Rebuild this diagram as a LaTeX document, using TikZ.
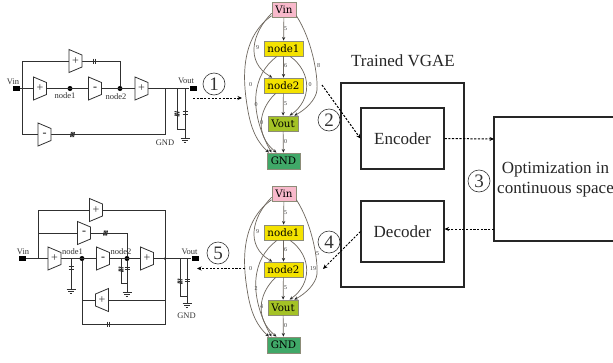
\documentclass[tikz,border=0pt]{standalone}
\usepackage{fontspec}
\setmainfont{Liberation Serif}
\newfontfamily\gvfont{DejaVu Serif}
\usetikzlibrary{arrows.meta}
\definecolor{wirec}{HTML}{303030}
\definecolor{edgec}{HTML}{6E675E}
\definecolor{gvborder}{HTML}{8C8C78}
\tikzset{
  wire/.style={draw=wirec,line width=0.9pt},
  ampbody/.style={draw=wirec,line width=0.8pt,fill=white},
  ampsign/.style={inner sep=0pt,font=\fontsize{12}{12}\selectfont,text=wirec},
  clabel/.style={inner sep=0pt,font=\fontsize{8.5}{9}\selectfont,text=black!80},
  dotn/.style={circle,fill=black,inner sep=0pt,minimum size=5pt},
  term/.style={fill=black,inner sep=0pt,minimum width=7pt,minimum height=5pt},
  gv/.style={draw=gvborder,line width=0.8pt,inner sep=0pt,minimum height=15pt,font=\gvfont\fontsize{10.3}{10}\selectfont},
  gvE/.style={draw=edgec,line width=0.7pt,-{Stealth[length=3.6pt,width=3.2pt,color=black!85]}},
  gvL/.style={inner sep=0pt,font=\fontsize{6}{6}\selectfont,text=black!75},
  blk/.style={draw=black!85,line width=1.1pt},
  txt/.style={inner sep=0pt,font=\fontsize{17}{20}\selectfont,text=black!85,align=center},
  num/.style={circle,draw=black!80,line width=0.6pt,fill=white,minimum size=22pt,inner sep=0pt,font=\fontsize{19}{19}\selectfont,text=black!80},
  dasharrow/.style={draw=black,line width=1pt,dash pattern=on 2.2pt off 1.5pt,-{Stealth[length=4.5pt,width=4pt]}},
}
% right-narrowing amplifier: name, cx, y, sign
\newcommand{\ampR}[4]{\begin{scope}[shift={(#2,#3)}]
  \path[ampbody] (-6.5,-11.5)--(6.5,-6)--(6.5,6)--(-6.5,11.5)--cycle;
  \node[ampsign] (#1) at (0,0) {#4};\end{scope}}
% left-narrowing amplifier
\newcommand{\ampL}[4]{\begin{scope}[shift={(#2,#3)}]
  \path[ampbody] (6.5,-11.5)--(-6.5,-6)--(-6.5,6)--(6.5,11.5)--cycle;
  \node[ampsign] (#1) at (0,0) {#4};\end{scope}}
\newcommand{\capH}[2]{\draw[wirec,line width=1.2pt] (#1-1.2,#2-2.5)--(#1-1.2,#2+2.5) (#1+1.2,#2-2.5)--(#1+1.2,#2+2.5);}
\newcommand{\capV}[2]{\draw[wirec,line width=1.2pt] (#1-2.5,#2-1.2)--(#1+2.5,#2-1.2) (#1-2.5,#2+1.2)--(#1+2.5,#2+1.2);}
\newcommand{\resV}[2]{\draw[wirec,line width=1pt] (#1-2.5,#2-2)--(#1+2.5,#2-1) (#1-2.5,#2)--(#1+2.5,#2+1) (#1-2.5,#2+1.5)--(#1+2.5,#2+2.5);}
\newcommand{\resH}[2]{\draw[wirec,line width=1pt] (#1-1.5,#2+2.5)--(#1-.5,#2-2.5) (#1,#2+2.5)--(#1+1,#2-2.5) (#1+1.5,#2+2.5)--(#1+2.5,#2-2.5);}
\newcommand{\gndsym}[2]{\draw[wirec,line width=0.8pt] (#1-4.5,#2)--(#1+4.5,#2) (#1-3,#2+2.2)--(#1+3,#2+2.2) (#1-1.4,#2+4.4)--(#1+1.4,#2+4.4);}
% graph: prefix, y offset, labels
\newcommand{\vgraph}[7]{\begin{scope}[yshift=#2 * -1pt]
  \node[gv,fill=gvVin,minimum width=24pt] (#1vin) at (284,10) {Vin};
  \node[gv,fill=gvNode,minimum width=39pt] (#1na) at (283.5,48.5) {node1};
  \node[gv,fill=gvNode,minimum width=39pt] (#1nb) at (283.5,85.5) {node2};
  \node[gv,fill=gvVout,minimum width=30pt] (#1vo) at (283,123.5) {Vout};
  \node[gv,fill=gvGnd,minimum width=33pt,minimum height=16pt] (#1gn) at (283.5,161) {GND};
  \draw[gvE] (#1vin) -- (#1na);
  \draw[gvE] (#1na) -- (#1nb);
  \draw[gvE] (#1nb) -- (#1vo);
  \draw[gvE] (#1vo) -- (#1gn);
  \draw[gvE] (#1vin.195) .. controls (252,33) and (245,62) .. (#1nb.145);
  \draw[gvE] (#1vin.205) .. controls (240,38) and (243,80) .. (247,105) .. controls (250,125) and (255,140) .. (#1gn.150);
  \draw[gvE] (#1na.230) .. controls (252,75) and (248,110) .. (#1gn.145);
  \draw[gvE] (#1nb.225) .. controls (258,110) and (255,135) .. (#1gn.130);
  \draw[gvE] (#1vin.-25) .. controls (312,40) and (318,75) .. (317,90) .. controls (316,100) and (305,110) .. (#1vo.35);
  \draw[gvE] (#1na.-50) .. controls (312,72) and (312,100) .. (#1vo.50);
  \node[gvL] (#1la) at (285.5,28.5) {#3};
  \node[gvL] (#1lb) at (257.5,47.5) {#4};
  \node[gvL] (#1lc) at (250.5,85) {0};
  \node[gvL] (#1ld) at (256,104.5) {#5};
  \node[gvL] (#1le) at (285.5,66) {6};
  \node[gvL] (#1lf) at (285.5,104) {5};
  \node[gvL] (#1lg) at (261.5,122.5) {#6};
  \node[gvL] (#1lh) at (285.5,141.5) {0};
  #7
  \end{scope}}
\definecolor{gvVin}{HTML}{F8B9CB}
\definecolor{gvNode}{HTML}{F4E200}
\definecolor{gvVout}{HTML}{A4C226}
\definecolor{gvGnd}{HTML}{40A868}
\begin{document}
\begin{tikzpicture}[x=1pt,y=-1pt]
\useasboundingbox (0,0) rectangle (613,362);
\fill[white] (0,0) rectangle (613,362);

%% ---- upper circuit
\node[term] (avin) at (16.5,88.5) {};
\coordinate (ajl) at (22,88.5);
\coordinate (ajt) at (22,61);
\coordinate (ajb) at (22,134.5);
\coordinate (atr) at (120,61);
\coordinate (agt) at (165,88.5);
\coordinate (agb) at (165,134.5);
\coordinate (arl) at (177,88.5);
\coordinate (arlb) at (177,129);
\coordinate (arr) at (185,88.5);
\coordinate (arrb) at (185,138);
\coordinate (arrm) at (185,129);
\node[term] (avout) at (193,88.5) {};
\node[dotn] (an1) at (70,88.5) {};
\node[dotn] (an2) at (120,88.5) {};
\draw[wire] (avin) -- (avout);
\draw[wire] (ajb) -- (ajt) -- (atr) -- (an2);
\draw[wire] (ajb) -- (agb) -- (agt);
\draw[wire] (arl) -- (arlb) -- (arrm);
\draw[wire] (arr) -- (arrb);
\ampR{aa1}{75.5}{61}{+}
\ampR{aa2}{40}{88.5}{+}
\ampR{aa3}{95}{88.5}{\textbf{-}}
\ampR{aa4}{141.5}{88.5}{+}
\ampR{aa5}{44.5}{134.5}{\textbf{-}}
\capH{94.5}{61}
\resH{72}{134.5}
\resV{177}{113.5}
\capV{185}{113}
\gndsym{185}{138}
\node[clabel] (alvin) at (13,82) {Vin};
\node[clabel] (aln1) at (65,95.5) {node1};
\node[clabel] (aln2) at (116,96.5) {node2};
\node[clabel] (alvo) at (186,81) {Vout};
\node[clabel] (algnd) at (165,143) {GND};

%% ---- lower circuit
\node[term] (bvin) at (22,258.5) {};
\coordinate (bjl) at (38,258.5);
\coordinate (bjt) at (38,210);
\coordinate (bjm) at (38,233);
\coordinate (btr) at (165,210);
\coordinate (bmr) at (127,233);
\coordinate (bbr) at (165,324);
\coordinate (bbl) at (82,324);
\coordinate (bpl) at (82,300);
\coordinate (bpr) at (165,300);
\node[dotn] (bn1) at (82,258.5) {};
\node[dotn] (bn2) at (127,258.5) {};
\node[dotn,minimum size=2.5pt] (bn3) at (165,258.5) {};
\node[term] (bvout) at (195,258.5) {};
\draw[wire] (bvin) -- (bvout);
\draw[wire] (bjl) -- (bjt) -- (btr) -- (bbr) -- (bbl) -- (bn1);
\draw[wire] (bjm) -- (bmr) -- (bn2);
\draw[wire] (bpl) -- (bpr);
\coordinate (bcg) at (71,258.5);
\coordinate (bcb) at (71,289);
\draw[wire] (bcg) -- (bcb);
\coordinate (bc2a) at (121,258.5);
\coordinate (bc2b) at (121,283);
\coordinate (bc2m) at (127,283);
\coordinate (bc2g) at (127,292);
\draw[wire] (bc2a) -- (bc2b) -- (bc2m);
\draw[wire] (bn2) -- (bc2g);
\coordinate (brl) at (180,258.5);
\coordinate (brlb) at (180,296);
\coordinate (brr) at (187,258.5);
\coordinate (brrm) at (187,296);
\coordinate (brrb) at (187,303);
\draw[wire] (brl) -- (brlb) -- (brrm);
\draw[wire] (brr) -- (brrb);
\ampR{ba1}{96}{210}{+}
\ampR{ba2}{84}{233}{\textbf{-}}
\ampR{ba3}{54.5}{258.5}{+}
\ampR{ba4}{103}{258.5}{\textbf{-}}
\ampR{ba5}{147}{258.5}{+}
\ampL{ba6}{102}{300}{+}
\capV{71}{268}
\resH{105}{233}
\resV{121}{269}
\capV{127}{268.5}
\resV{180}{281}
\capV{187}{280.5}
\capH{108.5}{324}
\gndsym{71}{289}
\gndsym{127}{292}
\gndsym{187}{303}
\node[clabel] (blvin) at (23,252) {Vin};
\node[clabel] (bln1) at (72.5,252) {node1};
\node[clabel] (bln2) at (121,252) {node2};
\node[clabel] (blvo) at (189.5,252) {Vout};
\node[clabel] (blgnd) at (186.5,316) {GND};

%% ---- graphs
\vgraph{g}{0}{5}{9}{0}{0}{
  \node[gvL] (gli) at (310,85) {0};
  \node[gvL] (glj) at (318.5,66) {8};}
\vgraph{h}{184}{5}{9}{2}{4}{
  \node[gvL] (hli) at (313,85) {19};
  \node[gvL] (hlj) at (317.5,70) {5};}

%% ---- VGAE
\node[blk,minimum width=123pt,minimum height=204pt,inner sep=0pt] (vgae) at (402.5,185) {};
\node[blk,minimum width=83pt,minimum height=61pt,inner sep=0pt,txt] (enc) at (402.5,138.5) {Encoder};
\node[blk,minimum width=83pt,minimum height=61pt,inner sep=0pt,txt] (dec) at (402.5,231.5) {Decoder};
\node[txt] (title) at (403,61) {Trained VGAE};
\draw[blk] (613,117) -- (494,117) -- (494,241) -- (613,241);
\coordinate (optw) at (494,139);
\coordinate (opte) at (494,229);
\node[txt,anchor=west] (opt) at (497,179.5) {Optimization in\\continuous space};

%% ---- dashed arrows
\coordinate (a1s) at (193,98);
\coordinate (a1e) at (242,98);
\coordinate (a2s) at (322,85);
\coordinate (a4e) at (323,269);
\coordinate (a5s) at (245,268.5);
\coordinate (a5e) at (197,268.5);
\draw[dasharrow] (a1s) -- (a1e);
\draw[dasharrow] (a5s) -- (a5e);
\draw[dasharrow] (a2s) -- (enc.west);
\draw[dasharrow] (dec.west) -- (a4e);
\draw[dasharrow] (enc.east) -- (optw);
\draw[dasharrow] (opte) -- (dec.east |- opte);

%% ---- step numbers
\node[num] (s1) at (214,84) {1};
\node[num] (s2) at (329,120) {2};
\node[num] (s3) at (479,181) {3};
\node[num] (s4) at (329,242) {4};
\node[num] (s5) at (218,253) {5};
\end{tikzpicture}
\end{document}
